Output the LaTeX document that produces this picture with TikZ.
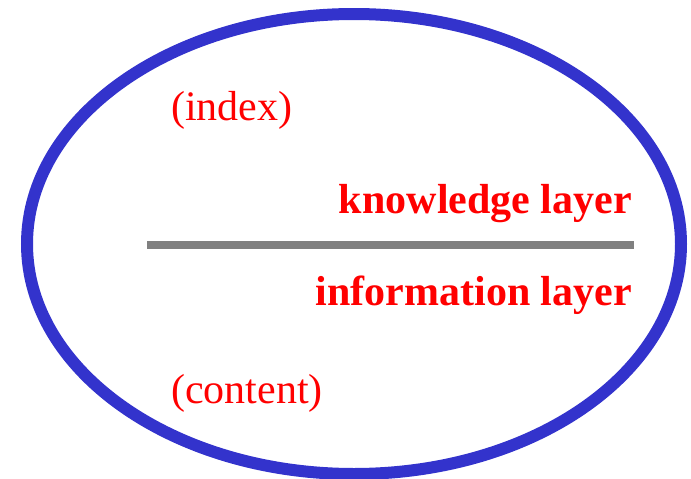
\documentclass[tikz,border=0pt]{standalone}
\usepackage{fontspec}
\setmainfont{Liberation Serif}
\usetikzlibrary{positioning}

\definecolor{ringblue}{RGB}{51,51,204}
\definecolor{bargrey}{RGB}{128,128,128}

\tikzset{
    layertext/.style={text=red, inner sep=0pt, font=\fontsize{42}{50}\selectfont\bfseries},
    tagtext/.style={text=red, inner sep=0pt, font=\fontsize{42}{50}\selectfont},
}

\begin{document}
\begin{tikzpicture}[x=1pt, y=-1pt]
    \useasboundingbox (0,0) rectangle (691,479);
    \coordinate (ctr) at (354,244);
    \coordinate (barl) at (147,245);
    \coordinate (barr) at (634,245);
    \node [layertext, anchor=base east] (know) at (632,213) {knowledge layer};
    \node [layertext, anchor=base east] (info) at (632,305) {information layer};
    \node [tagtext, anchor=base west] (idx) at (171,120) {(index)};
    \node [tagtext, anchor=base west] (cont) at (171,403) {(content)};

    \draw [ringblue, line width=12pt] (ctr) ellipse [x radius=327pt, y radius=230pt];
    \draw [bargrey, line width=8pt] (barl) -- (barr);
\end{tikzpicture}
\end{document}
